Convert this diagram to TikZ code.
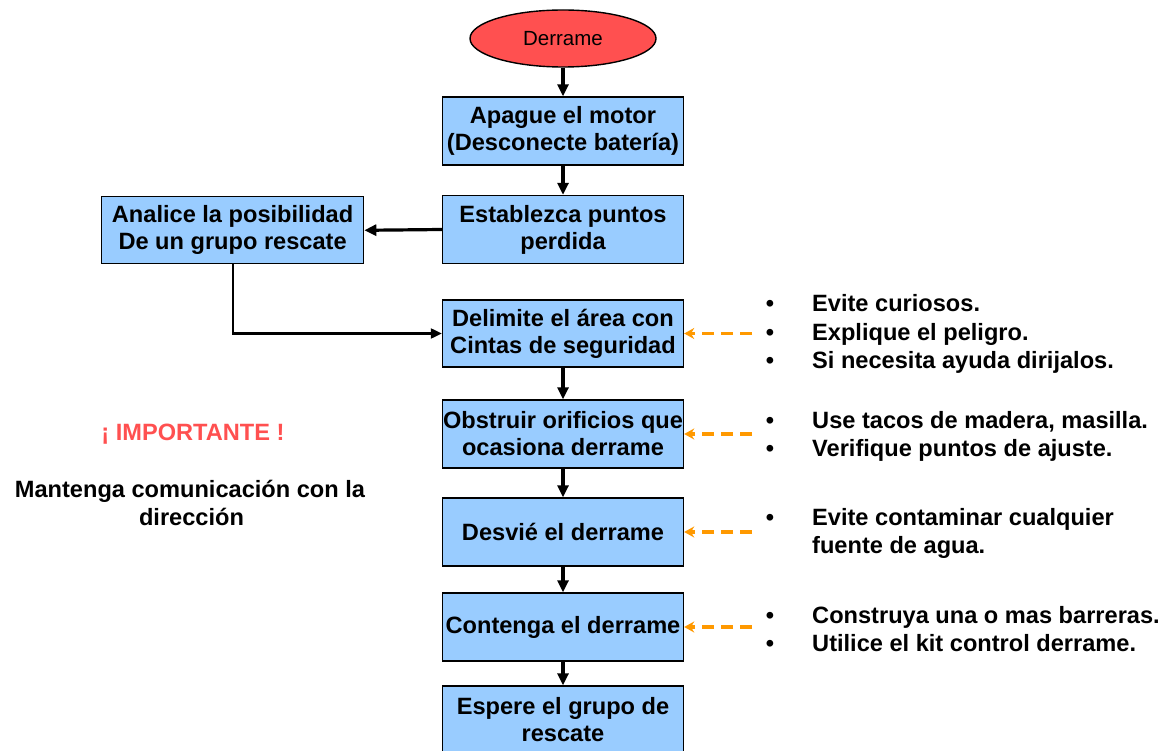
\documentclass[tikz,border=0pt]{standalone}
\usepackage{fontspec}
\setmainfont{Liberation Sans}
\usetikzlibrary{arrows.meta,shapes.geometric}
\definecolor{boxblue}{HTML}{99CCFF}
\definecolor{spillred}{HTML}{FF5050}
\definecolor{dashorange}{HTML}{FF9900}
\begin{document}
\begin{tikzpicture}[x=1pt,y=-1pt,
  bigfont/.style={font=\fontsize{23.6}{27}\selectfont\bfseries},
  stepbox/.style={draw=black, line width=1.4pt, fill=boxblue, minimum width=241pt,
    minimum height=68pt, inner sep=0pt, align=center, bigfont},
  flow/.style={-{Triangle[length=12pt,width=11pt]}, line width=3.2pt},
  elbow/.style={-{Triangle[length=11pt,width=10pt]}, line width=2.2pt},
  hint/.style={-{Stealth[length=10pt,width=11pt]}, draw=dashorange, line width=3.2pt,
    dash pattern=on 12pt off 7pt},
  bullettext/.style={anchor=base west, inner sep=0pt, bigfont},
  bulletdot/.style={anchor=base, inner sep=0pt, bigfont},
  sidetext/.style={anchor=base, inner sep=0pt, bigfont}
]
\path[use as bounding box] (0,0) rectangle (1172,751);
\clip (0,0) rectangle (1172,751);

% start ellipse
\node[ellipse, draw=black, line width=1.4pt, fill=spillred, minimum width=186pt,
  minimum height=57pt, inner sep=0pt, font=\fontsize{20.5}{24}\selectfont]
  (start) at (563,38.5) {\raisebox{-3pt}{Derrame}};

% main boxes
\node[stepbox] (b1) at (563,131) {Apague el motor\\(Desconecte batería)};
\node[stepbox] (b2) at (563,229.5) {Establezca puntos\\perdida};
\node[stepbox, minimum width=262pt, minimum height=67pt] (left) at (232.6,230.3)
  {Analice la posibilidad\\De un grupo rescate};
\node[stepbox, minimum height=67pt] (b3) at (563,333.5) {Delimite el área con\\Cintas de seguridad};
\node[stepbox] (b4) at (563,434) {Obstruir orificios que\\ocasiona derrame};
\node[stepbox] (b5) at (563,532) {Desvié el derrame};
\node[stepbox] (b6) at (563,627) {Contenga el derrame};
\node[stepbox] (b7) at (563,720) {Espere el grupo de\\rescate};

% flow arrows
\draw[flow] (start.south) -- (b1.north);
\draw[flow] (b1.south) -- (b2.north);
\draw[flow] (b2.west) -- (left.east);
\draw[elbow] (left.south) |- (b3.west);
\draw[flow] (b3.south) -- (b4.north);
\draw[flow] (b4.south) -- (b5.north);
\draw[flow] (b5.south) -- (b6.north);
\draw[flow] (b6.south) -- (b7.north);

% dashed hint arrows
\coordinate (h3) at (752,333.5);
\coordinate (h4) at (752,434);
\coordinate (h5) at (752,532);
\coordinate (h6) at (752,627);
\draw[hint] (h3) -- (b3.east);
\draw[hint] (h4) -- (b4.east);
\draw[hint] (h5) -- (b5.east);
\draw[hint] (h6) -- (b6.east);

% bullet lists
\node[bulletdot] (d1) at (770,311.5) {•};
\node[bullettext] (t1) at (812,311.5) {Evite curiosos.};
\node[bulletdot] (d2) at (770,340) {•};
\node[bullettext] (t2) at (812,340) {Explique el peligro.};
\node[bulletdot] (d3) at (770,368.5) {•};
\node[bullettext] (t3) at (812,368.5) {Si necesita ayuda dirijalos.};

\node[bulletdot] (d4) at (770,428) {•};
\node[bullettext] (t4) at (812,428) {Use tacos de madera, masilla.};
\node[bulletdot] (d5) at (770,456.5) {•};
\node[bullettext] (t5) at (812,456.5) {Verifique puntos de ajuste.};

\node[bulletdot] (d6) at (770,525) {•};
\node[bullettext] (t6) at (812,525) {Evite contaminar cualquier};
\node[bullettext] (t7) at (812,553.5) {fuente de agua.};

\node[bulletdot] (d8) at (770,623) {•};
\node[bullettext] (t8) at (812,623) {Construya una o mas barreras.};
\node[bulletdot] (d9) at (770,651.5) {•};
\node[bullettext] (t9) at (812,651.5) {Utilice el kit control derrame.};

% left notes
\node[sidetext, text=spillred] (imp) at (193,440) {¡ IMPORTANTE !};
\node[sidetext] (m1) at (190,497) {Mantenga comunicación con la};
\node[sidetext] (m2) at (191.5,525) {dirección};
\end{tikzpicture}
\end{document}
